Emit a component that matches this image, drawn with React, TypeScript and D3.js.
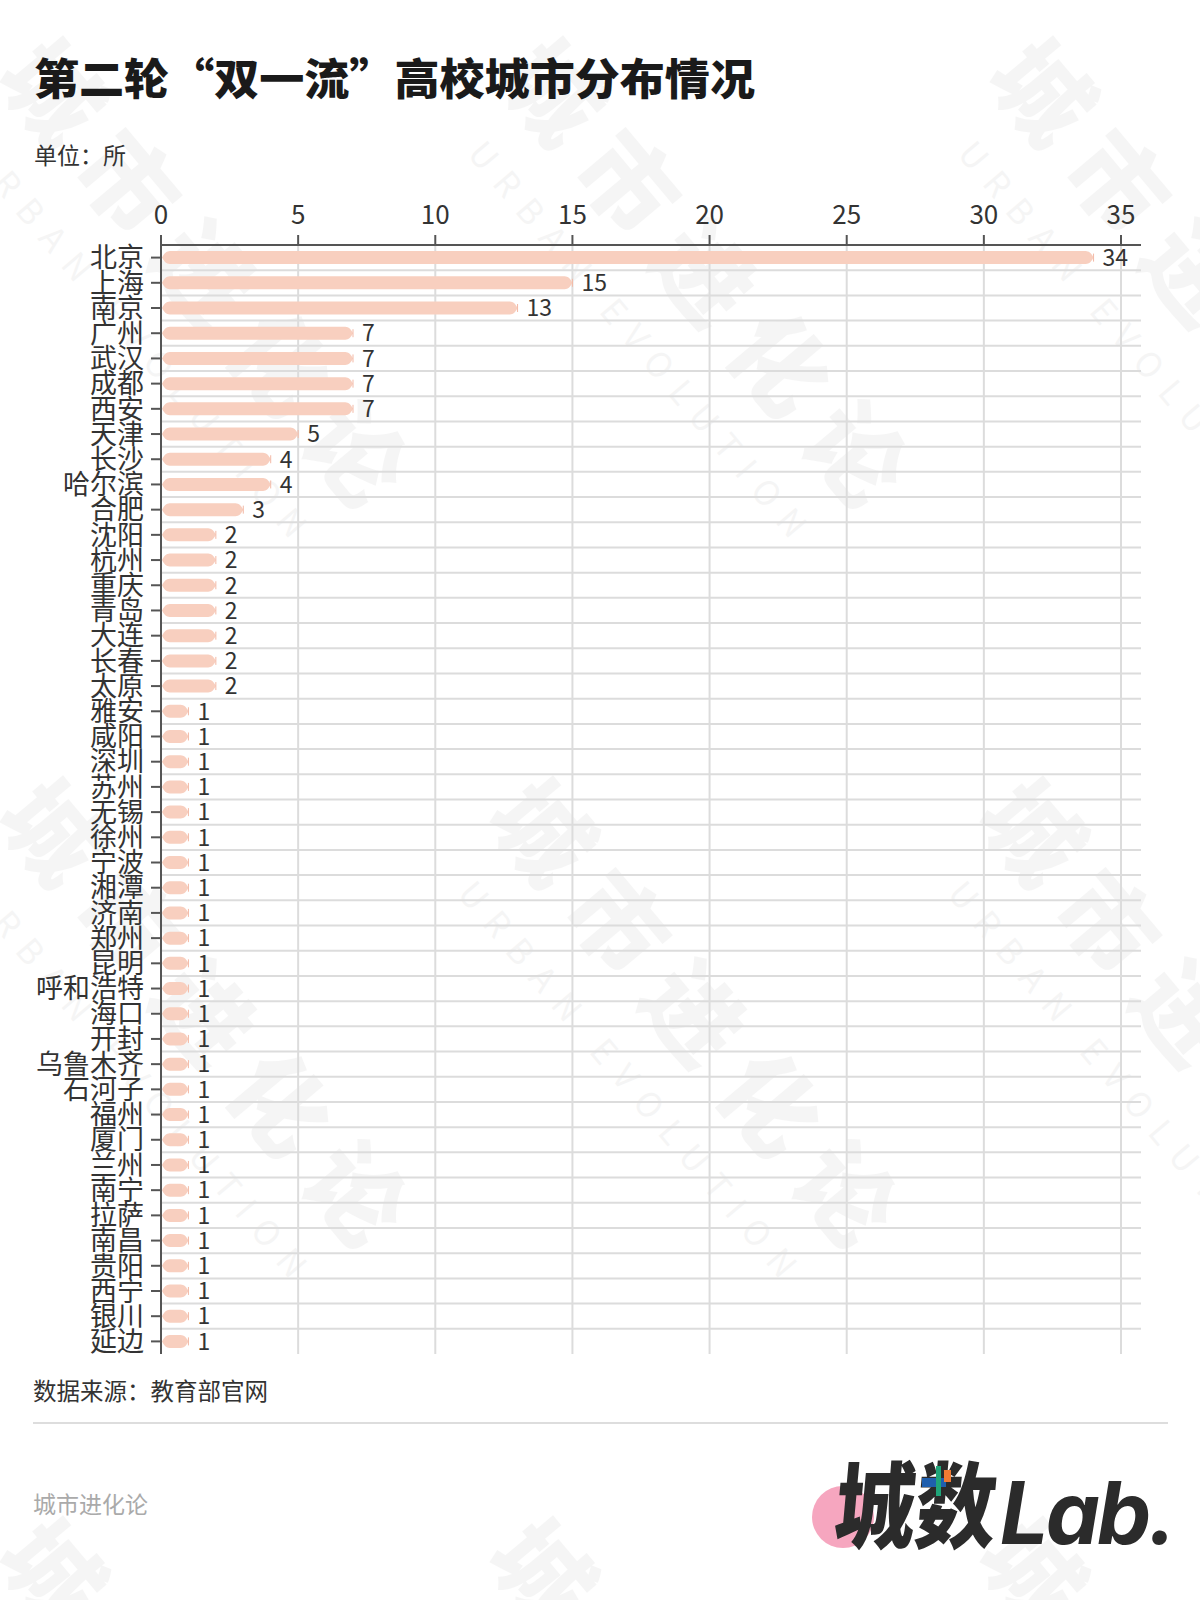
import React from "react";
import * as d3 from "d3";

const cities: string[] = [
  "北京", "上海", "南京", "广州", "武汉", "成都", "西安", "天津", "长沙", "哈尔滨",
  "合肥", "沈阳", "杭州", "重庆", "青岛", "大连", "长春", "太原", "雅安", "咸阳",
  "深圳", "苏州", "无锡", "徐州", "宁波", "湘潭", "济南", "郑州", "昆明", "呼和浩特",
  "海口", "开封", "乌鲁木齐", "石河子", "福州", "厦门", "兰州", "南宁", "拉萨", "南昌",
  "贵阳", "西宁", "银川", "延边",
];
const counts: number[] = [
  34, 15, 13, 7, 7, 7, 7, 5, 4, 4,
  3, 2, 2, 2, 2, 2, 2, 2, 1, 1,
  1, 1, 1, 1, 1, 1, 1, 1, 1, 1,
  1, 1, 1, 1, 1, 1, 1, 1, 1, 1,
  1, 1, 1, 1,
];
const xTicks: number[] = [0, 5, 10, 15, 20, 25, 30, 35];

const title = "第二轮“双一流”高校城市分布情况";
const unitText = "单位：所";
const sourceText = "数据来源：教育部官网";
const brandText = "城市进化论";

const W = 1200;
const H = 1600;
const left = 161;
const right = 1141;
const top = 245;
const bottom = 1354;
const FONT = "'Noto Sans CJK SC', 'Noto Sans', sans-serif";

const x = d3.scaleLinear().domain([0, 35]).range([left, 1121]);
const y = d3.scaleBand<string>().domain(cities).range([top, bottom]).padding(0);

function barPath(x0: number, x1: number, cy: number, h: number): string {
  const hh = h / 2;
  const w = x1 - x0;
  const r = Math.min(9, w / 2);
  const p = d3.path();
  p.moveTo(x0, cy);
  p.bezierCurveTo(x0 + r * 0.35, cy - hh * 0.9, x0 + r * 0.6, cy - hh, x0 + r, cy - hh);
  p.lineTo(x1 - r, cy - hh);
  p.bezierCurveTo(x1 - r * 0.6, cy - hh, x1 - r * 0.35, cy - hh * 0.9, x1, cy);
  p.bezierCurveTo(x1 - r * 0.35, cy + hh * 0.9, x1 - r * 0.6, cy + hh, x1 - r, cy + hh);
  p.lineTo(x0 + r, cy + hh);
  p.bezierCurveTo(x0 + r * 0.6, cy + hh, x0 + r * 0.35, cy + hh * 0.9, x0, cy);
  p.closePath();
  return p.toString();
}

const wmOrigins: [number, number][] = [
  [40, 40], [540, 40], [1030, 40],
  [40, 780], [530, 780], [1020, 780],
  [40, 1520], [530, 1520], [1020, 1520],
];

function Watermark({ ox, oy }: { ox: number; oy: number }) {
  return (
    <g transform={`translate(${ox},${oy}) rotate(50)`} opacity={0.035}>
      <text x={0} y={60} fontSize={96} fontWeight={900} fontFamily={FONT} letterSpacing={22} fill="#000">
        {brandText}
      </text>
      <text x={40} y={130} fontSize={34} fontFamily={FONT} letterSpacing={14} fill="#000">
        URBAN EVOLUTION
      </text>
    </g>
  );
}

export default function App() {
  const bw = y.bandwidth();
  return (
    <svg width={W} height={H} viewBox={`0 0 ${W} ${H}`} style={{ display: "block", position: "absolute", left: 0, top: 0, background: "#fff" }}>
      <rect x={0} y={0} width={W} height={H} fill="#fff" />
      {wmOrigins.map(([ox, oy], i) => (
        <Watermark key={i} ox={ox} oy={oy} />
      ))}

      <text x={34} y={95} fontSize={43} fontWeight={900} fontFamily={FONT} fill="#1a1a1a" textLength={721} lengthAdjust="spacingAndGlyphs">
        {title}
      </text>
      <text x={34} y={164} fontSize={23} fontFamily={FONT} fill="#333">
        {unitText}
      </text>

      {/* horizontal grid lines */}
      {cities.slice(0, -1).map((c) => (
        <line key={"hg" + c} x1={left} x2={right} y1={(y(c) as number) + bw} y2={(y(c) as number) + bw} stroke="#dcdcdc" strokeWidth={2} />
      ))}
      {/* vertical grid lines */}
      {xTicks.filter((t) => t > 0).map((t) => (
        <line key={"vg" + t} x1={x(t)} x2={x(t)} y1={top} y2={bottom} stroke="#dcdcdc" strokeWidth={2} />
      ))}

      {/* bars */}
      {cities.map((c, i) => {
        const cy = (y(c) as number) + bw / 2;
        const x1 = x(counts[i]);
        return (
          <g key={"b" + c}>
            <path d={barPath(x(0) + 1, x1, cy, 13)} fill="#f8cfbf" />
            <line x1={x1} x2={x1} y1={cy - 4} y2={cy + 4} stroke="#f3b9a6" strokeWidth={1} />
            <text x={x1 + 9} y={cy} dy="0.36em" fontSize={23} fontFamily={FONT} fill="#333">
              {counts[i]}
            </text>
          </g>
        );
      })}

      {/* top axis */}
      <line x1={left} x2={right} y1={top} y2={top} stroke="#555" strokeWidth={2} />
      {xTicks.map((t) => (
        <g key={"xt" + t}>
          <line x1={x(t)} x2={x(t)} y1={top} y2={top - 10} stroke="#555" strokeWidth={2} />
          <text x={x(t)} y={224} textAnchor="middle" fontSize={26} fontFamily={FONT} fill="#333">
            {t}
          </text>
        </g>
      ))}

      {/* left axis */}
      <line x1={left} x2={left} y1={top - 10} y2={bottom} stroke="#555" strokeWidth={2} />
      {cities.map((c) => {
        const cy = (y(c) as number) + bw / 2;
        return (
          <g key={"yt" + c}>
            <line x1={left - 10} x2={left} y1={cy} y2={cy} stroke="#555" strokeWidth={2} />
            <text x={144} y={cy} dy="0.36em" textAnchor="end" fontSize={27} fontFamily={FONT} fill="#333">
              {c}
            </text>
          </g>
        );
      })}

      {/* footer */}
      <text x={33} y={1400} fontSize={23.5} fontFamily={FONT} fill="#333">
        {sourceText}
      </text>
      <line x1={33} x2={1168} y1={1423} y2={1423} stroke="#dddddd" strokeWidth={2} />
      <text x={33} y={1513} fontSize={23} fontFamily={FONT} fill="#aaa">
        {brandText}
      </text>

      {/* logo */}
      <circle cx={843} cy={1517} r={31} fill="#f6a6bf" />
      <g transform="translate(832,1541) scale(0.86,1) skewX(-6)">
        <text x={0} y={0} fontSize={94} fontWeight={900} fontFamily={FONT} fill="#2b2b2b">
          城数
        </text>
      </g>
      <rect x={922} y={1478} width={24} height={9} fill="#1f5fae" />
      <rect x={936} y={1466} width={5} height={30} fill="#1fa57a" />
      <rect x={944} y={1470} width={7} height={12} fill="#f07a32" />
      <text x={1000} y={1544} fontSize={86} fontWeight={700} fontStyle="italic" fontFamily="Inter, 'Liberation Sans', sans-serif" fill="#2b2b2b" letterSpacing={-3}>
        Lab.
      </text>
    </svg>
  );
}
